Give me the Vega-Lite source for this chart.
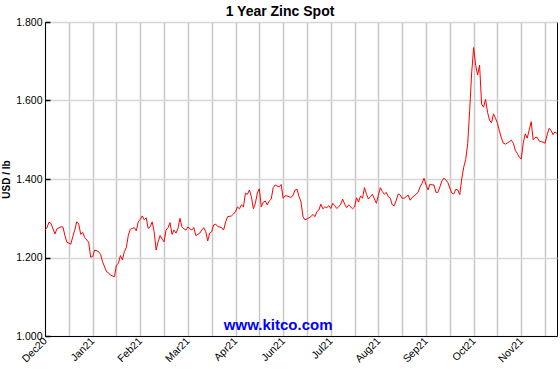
{
  "$schema": "https://vega.github.io/schema/vega-lite/v6.json",
  "width": 512,
  "height": 314,
  "autosize": {"type": "none"},
  "padding": {"left": 45, "top": 22, "right": 3, "bottom": 33},
  "background": "white",
  "title": {"text": "1 Year Zinc Spot", "font": "Liberation Sans", "fontSize": 14, "fontWeight": "bold", "color": "#000000", "anchor": "middle", "frame": "group", "dx": -21, "dy": 18, "offset": 5, "baseline": "alphabetic"},
  "config": {"view": {"stroke": "#000000", "strokeWidth": 1}},
  "encoding": {
    "x": {"field": "t", "type": "quantitative",
      "scale": {"domain": [0, 258], "nice": false, "zero": false},
      "axis": {"values": [0,12,24,36,48,60,72,84,96,108,120,132,144,156,168,180,192,204,216,228,240,252],
        "labelExpr": "datum.value % 24 == 0 ? ['Dec20','Jan21','Feb21','Mar21','Apr21','Jun21','Jul21','Aug21','Sep21','Oct21','Nov21'][datum.value / 24] : ''",
        "grid": true, "gridColor": "#c8c8c8", "gridWidth": 1.5, "ticks": false, "domain": true, "domainColor": "#000000",
        "labelAngle": -45, "labelAlign": "right", "labelBaseline": "middle", "labelPadding": 3,
        "labelFont": "Liberation Sans", "labelFontSize": 10.5, "labelColor": "#000000", "title": null,
        "labelOverlap": false, "labelBound": false, "labelFlush": false}},
    "y": {"field": "v", "type": "quantitative",
      "scale": {"domain": [1.0, 1.8], "nice": false, "zero": false},
      "axis": {"values": [1.0, 1.2, 1.4, 1.6, 1.8], "format": ".3f",
        "grid": true, "gridColor": "#d6d6d6", "gridWidth": 1.5, "ticks": true, "tickColor": "#000000", "tickSize": -5, "tickWidth": 1.5,
        "domain": true, "domainColor": "#000000", "labelPadding": 8,
        "labelFont": "Liberation Sans", "labelFontSize": 10.5, "labelColor": "#000000",
        "title": "USD / lb", "titleFont": "Liberation Sans", "titleFontSize": 10, "titleFontWeight": "bold", "titleColor": "#000000", "titlePadding": 4,
        "labelFlush": false, "labelOverlap": false}}
  },
  "layer": [
    {
      "data": {"values": [
        {"t":0,"v":1.270},{"t":1,"v":1.276},{"t":2,"v":1.290},{"t":3,"v":1.287},{"t":4,"v":1.273},{"t":5,"v":1.260},{"t":6,"v":1.273},{"t":8,"v":1.278},{"t":9,"v":1.278},{"t":10,"v":1.257},
        {"t":11,"v":1.239},{"t":13,"v":1.234},{"t":14,"v":1.253},{"t":15,"v":1.270},{"t":16,"v":1.291},{"t":17,"v":1.285},{"t":18,"v":1.259},{"t":19,"v":1.264},{"t":20,"v":1.251},{"t":22,"v":1.239},
        {"t":23,"v":1.201},{"t":24,"v":1.202},{"t":25,"v":1.219},{"t":27,"v":1.215},{"t":28,"v":1.208},{"t":29,"v":1.189},{"t":31,"v":1.164},{"t":32,"v":1.161},{"t":33,"v":1.155},{"t":35,"v":1.151},
        {"t":36,"v":1.181},{"t":37,"v":1.185},{"t":38,"v":1.205},{"t":39,"v":1.194},{"t":40,"v":1.215},{"t":41,"v":1.226},{"t":42,"v":1.257},{"t":43,"v":1.272},{"t":44,"v":1.274},{"t":45,"v":1.276},
        {"t":46,"v":1.268},{"t":47,"v":1.291},{"t":48,"v":1.297},{"t":49,"v":1.306},{"t":50,"v":1.296},{"t":51,"v":1.301},{"t":52,"v":1.274},{"t":53,"v":1.278},{"t":54,"v":1.291},{"t":55,"v":1.266},
        {"t":56,"v":1.219},{"t":57,"v":1.240},{"t":58,"v":1.256},{"t":59,"v":1.247},{"t":60,"v":1.240},{"t":61,"v":1.270},{"t":62,"v":1.276},{"t":63,"v":1.289},{"t":64,"v":1.259},{"t":65,"v":1.270},
        {"t":66,"v":1.262},{"t":67,"v":1.274},{"t":68,"v":1.300},{"t":69,"v":1.278},{"t":70,"v":1.273},{"t":71,"v":1.270},{"t":72,"v":1.278},{"t":73,"v":1.273},{"t":74,"v":1.270},{"t":75,"v":1.276},
        {"t":76,"v":1.256},{"t":77,"v":1.259},{"t":78,"v":1.262},{"t":79,"v":1.270},{"t":80,"v":1.276},{"t":81,"v":1.266},{"t":82,"v":1.242},{"t":83,"v":1.262},{"t":84,"v":1.266},{"t":85,"v":1.283},
        {"t":86,"v":1.285},{"t":87,"v":1.279},{"t":89,"v":1.276},{"t":90,"v":1.270},{"t":91,"v":1.290},{"t":92,"v":1.304},{"t":94,"v":1.306},{"t":95,"v":1.311},{"t":96,"v":1.317},{"t":97,"v":1.329},
        {"t":98,"v":1.324},{"t":99,"v":1.334},{"t":100,"v":1.329},{"t":101,"v":1.364},{"t":102,"v":1.361},{"t":103,"v":1.372},{"t":104,"v":1.355},{"t":105,"v":1.324},{"t":106,"v":1.338},{"t":107,"v":1.364},
        {"t":108,"v":1.375},{"t":109,"v":1.329},{"t":110,"v":1.341},{"t":111,"v":1.344},{"t":112,"v":1.334},{"t":113,"v":1.344},{"t":114,"v":1.349},{"t":115,"v":1.378},{"t":116,"v":1.385},{"t":117,"v":1.382},
        {"t":118,"v":1.380},{"t":119,"v":1.386},{"t":120,"v":1.351},{"t":121,"v":1.357},{"t":122,"v":1.357},{"t":123,"v":1.355},{"t":124,"v":1.353},{"t":125,"v":1.359},{"t":126,"v":1.372},{"t":127,"v":1.374},
        {"t":128,"v":1.355},{"t":129,"v":1.342},{"t":130,"v":1.304},{"t":131,"v":1.296},{"t":132,"v":1.298},{"t":134,"v":1.304},{"t":135,"v":1.310},{"t":136,"v":1.304},{"t":137,"v":1.317},{"t":138,"v":1.321},
        {"t":139,"v":1.336},{"t":140,"v":1.324},{"t":141,"v":1.329},{"t":142,"v":1.327},{"t":143,"v":1.332},{"t":144,"v":1.325},{"t":145,"v":1.338},{"t":146,"v":1.332},{"t":147,"v":1.325},{"t":148,"v":1.329},
        {"t":149,"v":1.336},{"t":150,"v":1.349},{"t":151,"v":1.336},{"t":152,"v":1.327},{"t":153,"v":1.334},{"t":155,"v":1.324},{"t":156,"v":1.329},{"t":157,"v":1.352},{"t":158,"v":1.341},{"t":159,"v":1.357},
        {"t":160,"v":1.351},{"t":161,"v":1.378},{"t":162,"v":1.361},{"t":163,"v":1.349},{"t":164,"v":1.355},{"t":165,"v":1.361},{"t":166,"v":1.349},{"t":167,"v":1.338},{"t":168,"v":1.359},{"t":169,"v":1.378},
        {"t":170,"v":1.368},{"t":171,"v":1.361},{"t":172,"v":1.366},{"t":173,"v":1.355},{"t":174,"v":1.351},{"t":175,"v":1.334},{"t":176,"v":1.332},{"t":177,"v":1.346},{"t":178,"v":1.362},{"t":179,"v":1.359},
        {"t":180,"v":1.351},{"t":181,"v":1.351},{"t":182,"v":1.355},{"t":183,"v":1.359},{"t":184,"v":1.346},{"t":185,"v":1.353},{"t":186,"v":1.357},{"t":188,"v":1.366},{"t":189,"v":1.380},{"t":190,"v":1.389},
        {"t":191,"v":1.402},{"t":192,"v":1.385},{"t":193,"v":1.372},{"t":194,"v":1.387},{"t":195,"v":1.385},{"t":196,"v":1.385},{"t":197,"v":1.366},{"t":198,"v":1.366},{"t":199,"v":1.380},{"t":200,"v":1.395},
        {"t":201,"v":1.402},{"t":202,"v":1.398},{"t":203,"v":1.391},{"t":204,"v":1.377},{"t":205,"v":1.364},{"t":206,"v":1.362},{"t":207,"v":1.374},{"t":208,"v":1.372},{"t":209,"v":1.360},{"t":210,"v":1.400},
        {"t":211,"v":1.430},{"t":212,"v":1.450},{"t":213,"v":1.490},{"t":214,"v":1.575},{"t":215,"v":1.670},{"t":216,"v":1.735},{"t":217,"v":1.690},{"t":218,"v":1.665},{"t":219,"v":1.690},{"t":220,"v":1.591},
        {"t":221,"v":1.583},{"t":222,"v":1.603},{"t":223,"v":1.570},{"t":224,"v":1.550},{"t":225,"v":1.543},{"t":226,"v":1.566},{"t":227,"v":1.555},{"t":228,"v":1.542},{"t":229,"v":1.522},{"t":230,"v":1.504},
        {"t":231,"v":1.491},{"t":232,"v":1.489},{"t":233,"v":1.492},{"t":234,"v":1.495},{"t":235,"v":1.499},{"t":236,"v":1.491},{"t":237,"v":1.473},{"t":238,"v":1.465},{"t":239,"v":1.455},{"t":240,"v":1.451},
        {"t":241,"v":1.492},{"t":242,"v":1.515},{"t":243,"v":1.504},{"t":244,"v":1.525},{"t":245,"v":1.546},{"t":246,"v":1.500},{"t":247,"v":1.506},{"t":248,"v":1.506},{"t":249,"v":1.497},{"t":250,"v":1.495},
        {"t":251,"v":1.494},{"t":252,"v":1.491},{"t":253,"v":1.512},{"t":254,"v":1.529},{"t":255,"v":1.524},{"t":256,"v":1.513},{"t":257,"v":1.520},{"t":258,"v":1.516}
      ]},
      "mark": {"type": "line", "color": "#ff0000", "strokeWidth": 1, "interpolate": "linear"}
    },
    {
      "data": {"values": [{"t": 117.5, "v": 1.015, "label": "www.kitco.com"}]},
      "mark": {"type": "text", "font": "Liberation Sans", "fontSize": 15, "fontWeight": "bold", "color": "#0000ff", "baseline": "alphabetic", "align": "center"},
      "encoding": {"text": {"field": "label", "type": "nominal"}}
    }
  ]
}
